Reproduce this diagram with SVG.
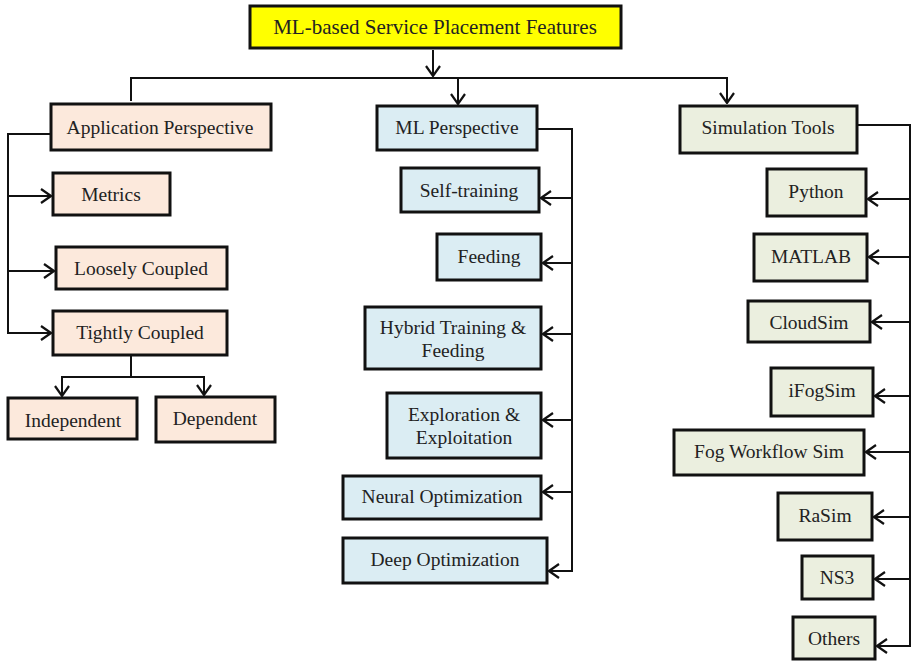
<svg xmlns="http://www.w3.org/2000/svg" width="911" height="661" viewBox="0 0 911 661">
  <style>
    .box { stroke: #111; stroke-width: 3; }
    .root { fill: #ffff00; }
    .app { fill: #fce9dc; }
    .ml { fill: #dbedf3; }
    .sim { fill: #ebefdf; }
    .lbl { font-family: "Liberation Serif", "Times New Roman", serif; font-size: 19.5px; fill: #222; text-anchor: middle; dominant-baseline: central; }
    .title { font-size: 21px; }
    .wire { fill: none; stroke: #111; stroke-width: 2; }
  </style>
  <defs>
    <marker id="arrow" viewBox="0 0 12 16" refX="11" refY="8" markerWidth="12" markerHeight="16" markerUnits="userSpaceOnUse" orient="auto">
      <path d="M1,1 L11,8 L1,15" fill="none" stroke="#111" stroke-width="2.2"/>
    </marker>
  </defs>
  <rect width="911" height="661" fill="#ffffff"/>

  <g id="connectors" class="wire">
    <!-- root to three perspectives -->
    <path d="M433,50 V76" marker-end="url(#arrow)"/>
    <path d="M131,101 V78 H727 V103" marker-end="url(#arrow)"/>
    <path d="M458,78 V104" marker-end="url(#arrow)"/>
    <!-- application branch -->
    <path d="M51,134 H8 V333 H51" marker-end="url(#arrow)"/>
    <path d="M8,196 H51" marker-end="url(#arrow)"/>
    <path d="M8,271 H54" marker-end="url(#arrow)"/>
    <path d="M131,355 V377"/>
    <path d="M62,396 V377 H204 V395" marker-end="url(#arrow)"/>
    <path d="M62,377 V396" marker-end="url(#arrow)"/>
    <!-- ML branch -->
    <path d="M537,129 H572 V571 H549" marker-end="url(#arrow)"/>
    <path d="M572,198 H541" marker-end="url(#arrow)"/>
    <path d="M572,263 H543" marker-end="url(#arrow)"/>
    <path d="M572,334 H543" marker-end="url(#arrow)"/>
    <path d="M572,420 H543" marker-end="url(#arrow)"/>
    <path d="M572,492 H543" marker-end="url(#arrow)"/>
    <!-- simulation branch -->
    <path d="M857,125 H910 V646 H877" marker-end="url(#arrow)"/>
    <path d="M910,199 H868" marker-end="url(#arrow)"/>
    <path d="M910,257 H869" marker-end="url(#arrow)"/>
    <path d="M910,322 H872" marker-end="url(#arrow)"/>
    <path d="M910,396 H875" marker-end="url(#arrow)"/>
    <path d="M910,452 H866" marker-end="url(#arrow)"/>
    <path d="M910,517 H874" marker-end="url(#arrow)"/>
    <path d="M910,579 H875" marker-end="url(#arrow)"/>
  </g>

  <g id="root">
    <rect class="box root" x="250" y="6" width="371" height="42"/>
    <text class="lbl title" x="435" y="27">ML-based Service Placement Features</text>
  </g>

  <g id="app-perspective">
    <rect class="box app" x="51" y="104" width="220" height="46"/>
    <text class="lbl" x="160" y="127">Application Perspective</text>
  </g>
  <g id="metrics">
    <rect class="box app" x="53" y="173" width="117" height="42"/>
    <text class="lbl" x="111" y="194">Metrics</text>
  </g>
  <g id="loosely-coupled">
    <rect class="box app" x="56" y="247" width="171" height="42"/>
    <text class="lbl" x="141" y="268">Loosely Coupled</text>
  </g>
  <g id="tightly-coupled">
    <rect class="box app" x="53" y="311" width="174" height="44"/>
    <text class="lbl" x="140" y="332">Tightly Coupled</text>
  </g>
  <g id="independent">
    <rect class="box app" x="8" y="398" width="129" height="41"/>
    <text class="lbl" x="73" y="420">Independent</text>
  </g>
  <g id="dependent">
    <rect class="box app" x="156" y="397" width="119" height="45"/>
    <text class="lbl" x="215" y="418">Dependent</text>
  </g>

  <g id="ml-perspective">
    <rect class="box ml" x="377" y="106" width="160" height="44"/>
    <text class="lbl" x="457" y="127">ML Perspective</text>
  </g>
  <g id="self-training">
    <rect class="box ml" x="401" y="168" width="138" height="44"/>
    <text class="lbl" x="469" y="190">Self-training</text>
  </g>
  <g id="feeding">
    <rect class="box ml" x="437" y="234" width="104" height="46"/>
    <text class="lbl" x="489" y="256">Feeding</text>
  </g>
  <g id="hybrid">
    <rect class="box ml" x="365" y="307" width="176" height="62"/>
    <text class="lbl" x="453" y="327">Hybrid Training &amp;</text>
    <text class="lbl" x="453" y="350">Feeding</text>
  </g>
  <g id="exploration">
    <rect class="box ml" x="387" y="393" width="154" height="65"/>
    <text class="lbl" x="464" y="414">Exploration &amp;</text>
    <text class="lbl" x="464" y="437">Exploitation</text>
  </g>
  <g id="neural-optimization">
    <rect class="box ml" x="343" y="476" width="198" height="43"/>
    <text class="lbl" x="442" y="496">Neural Optimization</text>
  </g>
  <g id="deep-optimization">
    <rect class="box ml" x="343" y="538" width="204" height="45"/>
    <text class="lbl" x="445" y="559">Deep Optimization</text>
  </g>

  <g id="simulation-tools">
    <rect class="box sim" x="680" y="106" width="177" height="47"/>
    <text class="lbl" x="768" y="127">Simulation Tools</text>
  </g>
  <g id="python">
    <rect class="box sim" x="767" y="169" width="99" height="47"/>
    <text class="lbl" x="816" y="191">Python</text>
  </g>
  <g id="matlab">
    <rect class="box sim" x="754" y="234" width="113" height="47"/>
    <text class="lbl" x="811" y="256">MATLAB</text>
  </g>
  <g id="cloudsim">
    <rect class="box sim" x="748" y="301" width="122" height="41"/>
    <text class="lbl" x="809" y="322">CloudSim</text>
  </g>
  <g id="ifogsim">
    <rect class="box sim" x="771" y="368" width="102" height="48"/>
    <text class="lbl" x="822" y="390">iFogSim</text>
  </g>
  <g id="fog-workflow-sim">
    <rect class="box sim" x="674" y="430" width="190" height="45"/>
    <text class="lbl" x="769" y="451">Fog Workflow Sim</text>
  </g>
  <g id="rasim">
    <rect class="box sim" x="778" y="493" width="94" height="47"/>
    <text class="lbl" x="825" y="515">RaSim</text>
  </g>
  <g id="ns3">
    <rect class="box sim" x="802" y="556" width="71" height="43"/>
    <text class="lbl" x="837" y="577">NS3</text>
  </g>
  <g id="others">
    <rect class="box sim" x="793" y="617" width="82" height="42"/>
    <text class="lbl" x="834" y="638">Others</text>
  </g>
</svg>
